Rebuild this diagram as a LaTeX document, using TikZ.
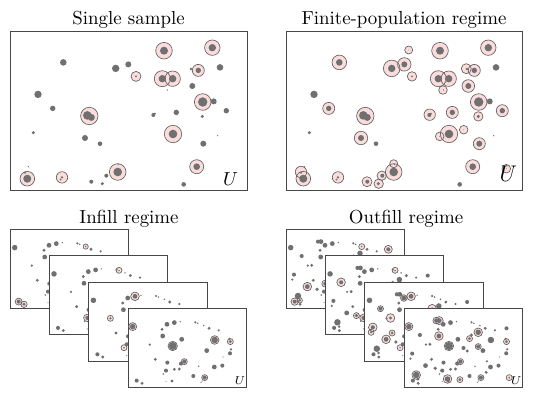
\documentclass[tikz,border=0pt]{standalone}
\usepackage{tikz}
\definecolor{unitgray}{RGB}{112,112,112}
\definecolor{samplepink}{RGB}{251,220,220}
\tikzset{
    panelbox/.style={draw=black!72, fill=white, line width=0.5pt},
    ringline/.style={draw=black!62, line width=0.35pt},
    paneltitle/.style={anchor=base, font=\normalsize},
    ulabel/.style={font=\normalsize, inner sep=0pt}
}

% one frame: origin, width, height, population (x/y/r), sample rings (x/y/R), dot growth
\newcommand{\popframe}[6]{%
    \begin{scope}[shift={#1}]
        \draw[panelbox] (0,0) rectangle (#2,#3);
        \foreach \sx/\sy/\sr in #5 {\fill[samplepink] (\sx,\sy) circle[radius=\sr];}
        \foreach \sx/\sy/\sr in #5 {\draw[ringline] (\sx,\sy) circle[radius=\sr];}
        \foreach \ux/\uy/\ur [evaluate=\ur as \uR using \ur*#6] in #4 {\fill[unitgray] (\ux,\uy) circle[radius=\uR];}
    \end{scope}}

% population of the two upper panels
\def\toppop{154/19/4, 202.3/16/3.7, 53.3/30.7/3.3, 105.7/36.7/3.7, 118.3/32.7/3, 126/44.7/1, 152.3/47/3.7, 162.7/47/3.7, 188.3/38.7/2.7, 181/37.3/1.3, 210/35.7/3.3, 182.3/54.3/3, 157.3/58.3/0.7, 28/62.7/3.7, 192.7/70.3/4.7, 203.7/69.7/3, 42.7/76.7/2.7, 77.3/83.7/4.3, 81.3/85.7/3.5, 143.3/83.3/2, 145/82/1, 166.3/80.7/2.7, 216.3/79/2.7, 192.3/84.7/1.7, 23.3/101/1.7, 163/102.3/4.3, 75/106.3/3, 90/112/2.3, 207.7/104/0.7, 193.3/112/3, 186.7/135/3.3, 107.7/140.3/4.3, 108.3/132.7/0.7, 17.3/147/4, 15/141/1.2, 18.3/135/0.7, 52/145.7/1.3, 50.5/148/1, 96.3/144/2, 81.3/150/2, 92.3/152/1.7, 173.7/152.7/2.3}
\edef\finitepop{\toppop, 122.7/18.3/0.4, 177.7/98/0.4, 153.7/104.7/0.4, 220.3/137/0.4}
\def\singlesample{154/19/8.3, 202.3/16/7.7, 126/44.7/5, 152.3/47/8, 162.7/47/7.7, 188.3/38.7/6, 192.7/70.3/8.3, 79.3/84.3/8.7, 163/102.3/8.7, 186.7/135/7, 107.7/140.3/8.3, 17.3/147/7.3, 52/145.7/5.7}
\def\finitesample{154/19/8.3, 202.3/16/7.7, 122.7/18.3/4, 53.3/30.7/7.3, 105.7/36.7/8.3, 118.3/32.7/6.7, 126/44.7/4.7, 152.3/47/8, 162.7/47/7.7, 180.3/37/5, 188.3/38.7/6, 182.3/54.3/6.3, 157/58.3/4.3, 192.7/70.3/8.3, 42.7/76.7/6, 79.3/84.3/8.7, 143.7/83/5.7, 166.3/80.7/6, 216.3/79/6, 192.3/84.7/4.7, 177.7/98/4.3, 163/102.3/8.7, 153.7/104.7/4.3, 75/106.3/6.7, 193.3/112/6, 186.7/135/7, 220.3/137/4.3, 107.7/140.3/8.3, 107.7/132/4, 95.7/144/4.7, 81/150/5, 92.7/152/4.7, 17.3/147/7.3, 15/140.3/5.7, 52/145.7/5.7}

% population of the small frames
\def\infillpop{4.7/18.3/2.3, 39/16/2, 46.3/14.3/2, 52.3/13.3/0.6, 67.3/14/1, 69.7/15/0.7, 75.7/17.3/0.7, 81/20/1.3, 90.7/22/1, 34/21/1.3, 34.7/27.7/2, 53.7/31/2, 86.7/31.7/2.7, 101.5/30.5/1, 102.3/33.3/1.3, 21.7/36.3/1, 44.7/37.7/3.3, 78.7/42.3/2, 102/45/1.7, 103/41/1, 27.3/51/1.3, 39.3/54.3/1.7, 56.3/53.3/1.7, 53/55.3/1.7, 46.3/61/1.3, 51.3/60.7/1.3, 38/62.3/1.7, 35.3/65.7/0.7, 86.3/58.7/2, 94.3/57.3/1.7, 70.7/58/0.7, 65.3/67.7/1.7, 76.7/69.3/1.7, 73/74/0.5, 74/72.7/0.5, 8.7/72.3/1.7, 14/75/1.3, 44/72.7/1.3, 38/73.3/0.5, 95/48.7/0.5}
\def\outfillextra{32/12.3/1.7, 35/12.3/2, 74/24/2.3, 102.3/20/1.7, 15.7/26.7/1.7, 25.7/36/1.3, 67.3/26.7/1.3, 65.3/30.3/1.3, 59.3/39.7/1.7, 74/38.3/1.7, 63/42.7/1.3, 8/45.3/1.7, 21.3/57.3/2, 82.7/53/1, 82/64/1.3, 12/66.7/2.7, 43.3/70.7/2.3, 55.7/71.3/1.3, 105/69.3/0.8, 6.3/50.3/1, 31/60/1.5, 13.7/71/1.2}
\edef\outfillpop{\infillpop, \outfillextra}

\def\infillA{75.7/17.3/2.6, 8.7/72.3/3.5, 14/75/3.2}
\def\infillB{69.7/14.7/3, 38/62.3/3.7}
\def\infillC{46.3/14.3/4.3, 21.7/36.3/3, 35.3/65.7/3}
\def\infillD{4.7/18.3/4, 86.7/31.7/4.3, 102.3/33.3/3, 44.7/37.7/4.7, 56.3/53.3/3, 76.7/69.3/3}
\def\outfillA{75.7/17.3/3, 102.3/20/4, 21.3/57.3/4.3, 8.7/72.3/3.7, 13.7/71/2.7, 39.3/54.3/3.5}
\def\outfillB{15.7/26.7/4.3, 69.7/14.7/3, 31/60/3, 38/62.3/3.7}
\def\outfillC{39/16/3.3, 46.3/14.3/4.3, 15.7/26.7/3, 25.7/36/4.3, 67.3/26.7/4.3, 8/45.3/4.3, 6.3/50.3/3, 27.3/51/3, 21.3/57.3/4.3, 35.3/65.7/3}
\def\outfillD{4.7/18.3/4, 32/12.3/3.3, 35/12.3/4, 74/24/4.3, 34.7/27.7/4.3, 65.3/30.3/3, 102.3/33.3/3, 44.7/37.7/4.7, 74/38.3/3, 56.3/53.3/3, 12/66.7/4.3, 43.3/70.7/4.3, 55.7/71.3/3, 76.7/69.3/3, 105/69.3/3}

\begin{document}
\begin{tikzpicture}[x=0.53pt, y=-0.53pt]
    \useasboundingbox (0,0) rectangle (533,398);

    % upper panels
    \popframe{(10,31.7)}{237}{158.3}{\toppop}{\singlesample}{1}
    \popframe{(286,31.7)}{236}{158.3}{\finitepop}{\finitesample}{1}

    % infill: same population, new sample each time
    \popframe{(10,229.3)}{118.5}{79}{\infillpop}{\infillA}{1.2}
    \popframe{(49.3,255.6)}{118.5}{79}{\infillpop}{\infillB}{1.2}
    \popframe{(88.7,282)}{118.5}{79}{\infillpop}{\infillC}{1.2}
    \popframe{(128,308.3)}{118.5}{79}{\infillpop}{\infillD}{1.2}

    % outfill
    \popframe{(286,229.3)}{118.5}{79}{\outfillpop}{\outfillA}{1.2}
    \popframe{(325.4,255.6)}{118.5}{79}{\outfillpop}{\outfillB}{1.2}
    \popframe{(364.8,282)}{118.5}{79}{\outfillpop}{\outfillC}{1.2}
    \popframe{(404.2,308.3)}{118.5}{79}{\outfillpop}{\outfillD}{1.2}

    \node[paneltitle] (singletitle) at (128.5,24.3) {Single sample};
    \node[paneltitle] (finitetitle) at (404,24.3) {Finite-population regime};
    \node[paneltitle] (infilltitle) at (129,223.3) {Infill regime};
    \node[paneltitle] (outfilltitle) at (406,223.3) {Outfill regime};

    \node[ulabel] (usingle) at (230.7,178.8) {$U$};
    \node[ulabel, font=\large] (ufinite) at (508.3,173.8) {$U$};
    \node[ulabel, font=\fontsize{6}{7}\selectfont] (uinfill) at (240,381) {$U$};
    \node[ulabel, font=\fontsize{6}{7}\selectfont] (uoutfill) at (516.2,381) {$U$};
\end{tikzpicture}
\end{document}
